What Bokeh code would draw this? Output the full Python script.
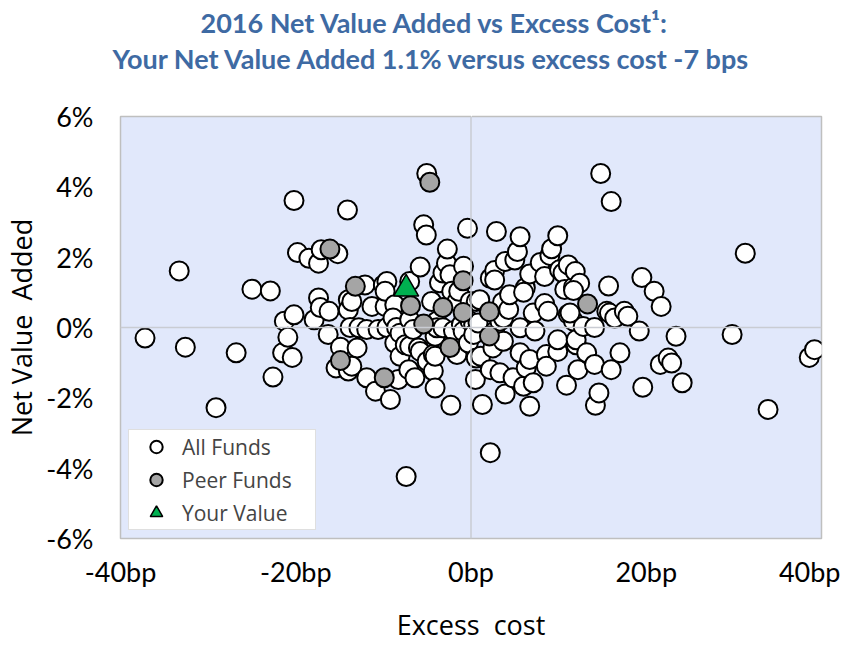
from bokeh.plotting import figure
from bokeh.models import (Range1d, FixedTicker, PrintfTickFormatter, Span,
                          Legend, LegendItem, Title, LinearAxis)
from bokeh.embed import file_html
from bokeh.resources import INLINE

# ---------------- data ----------------
x_ticks = [-40, -20, 0, 20, 40]
y_ticks = [-6, -4, -2, 0, 2, 4, 6]

# All funds: excess cost (bp) and net value added (%)
all_cost = [
    -37.2, -33.3, -32.6, -29.1, -26.8, -25.0, -22.9, -22.6, -21.5, -21.3,
    -20.9, -20.4, -20.2, -20.2, -19.8, -18.5, -17.9, -17.4, -17.4, -17.2,
    -17.1, -16.3, -16.2, -15.2, -14.9, -15.4, -14.0, -14.1, -14.0, -14.0,
    -13.8, -13.6, -13.0, -13.6, -12.8, -12.1, -11.9, -11.9, -11.3, -10.9,
    -10.6, -10.0, -9.8, -9.6, -9.8, -9.6, -9.2, -8.7, -8.9, -8.7,
    -8.5, -8.3, -8.1, -8.1, -7.5, -7.1, -7.0, -7.0, -7.0, -7.4,
    -6.6, -6.4, -6.0, -5.8, -5.8, -5.4, -5.1, -5.05, -5.0, -4.5,
    -4.3, -4.3, -4.1, -4.1, -3.9, -3.9, -3.6, -3.2, -3.2, -2.8,
    -2.7, -2.4, -2.3, -2.2, -2.0, -1.6, -1.6, -1.4, -1.1, -0.9,
    -0.85, -0.4, -0.3, -0.1, -0.1, 0.3, 0.3, 0.5, 0.6, 0.6,
    0.8, 1.0, 1.1, 1.3, 2.2, 2.2, 2.2, 2.5, 2.7, 2.7,
    2.7, 2.9, 3.3, 3.3, 3.6, 3.7, 3.7, 3.9, 3.9, 4.3,
    4.4, 4.8, 5.0, 5.3, 5.6, 5.6, 5.6, 6.0, 6.2, 6.3,
    6.7, 6.7, 6.7, 7.1, 7.1, 7.3, 7.9, 8.4, 8.4, 8.6,
    8.6, 8.8, 9.0, 9.2, 9.9, 9.9, 9.9, 10.1, 10.5, 10.7,
    10.9, 11.1, 11.1, 11.7, 11.7, 11.9, 12.0, 12.0, 12.2, 12.4,
    12.8, 13.2, 14.1, 14.1, 14.2, 14.6, 14.8, 15.5, 15.7, 15.8,
    16.0, 16.0, 16.4, 17.0, 17.5, 17.9, 19.2, 19.5, 19.6, 20.9,
    21.7, 21.6, 22.5, 22.9, 23.4, 24.1, 29.8, 31.3, 33.9, 38.6,
    39.2, 6.0, 11.7, -4.1, 11.3,
]
all_nva = [
    -0.30, 1.61, -0.56, -2.28, -0.72, 1.09, 1.04, -1.41, -0.72, 0.18,
    -0.28, -0.85, 0.36, 3.61, 2.13, 1.97, 0.22, 1.83, 0.84, 0.57,
    2.21, -0.20, 0.46, 2.10, -0.56, -1.15, -1.24, 3.34, 0.79, 0.50,
    0.00, 0.74, -0.58, -1.10, -0.01, 1.21, -0.06, -1.43, 0.60, -1.81,
    -0.06, 1.21, 0.60, 1.31, 1.03, 0.00, -2.05, 0.65, 0.27, -0.44,
    0.00, -1.48, -0.16, -0.82, -0.49, -1.20, 1.31, 0.22, -0.53, -4.24,
    -0.06, -1.43, -0.58, 1.72, -0.68, 2.92, 2.63, 4.38, -0.96, 0.74,
    -1.24, -0.77, -1.72, -0.25, 0.18, -0.01, 1.27, -0.01, 1.55, 1.83,
    2.23, 1.50, -2.21, 1.03, -0.09, 0.74, -0.77, 1.03, 0.08, -0.11,
    1.74, 2.82, -0.44, 0.74, 0.18, 0.08, -0.20, -1.48, -0.87, 0.74,
    0.13, 0.79, -0.82, -2.19, -3.56, 1.40, -1.20, -0.58, 1.62, 1.35,
    -0.11, 2.73, 0.18, -1.29, 0.72, 0.27, -0.39, 1.88, -1.89, 0.51,
    0.93, -1.43, 1.92, 2.16, 2.58, -0.72, -0.01, -1.67, 1.13, -1.15,
    1.52, -0.91, -2.24, 0.41, -1.57, -0.10, 1.85, 0.68, 1.45, -0.77,
    -1.10, 0.46, 2.05, 2.24, 2.61, -0.68, -0.35, 1.64, 1.55, 1.08,
    -1.64, 1.78, 0.38, 1.15, 0.18, 1.59, -0.49, -0.35, -1.20, 1.26,
    0.03, -0.72, 0.00, -1.05, -2.21, -1.86, 4.38, 0.46, 1.18, 0.41,
    3.58, -1.20, 0.27, -0.72, 0.46, 0.32, -0.10, 1.42, -1.70, 1.03,
    0.60, -1.05, -0.87, -1.01, -0.25, -1.57, -0.20, 2.11, -2.33, -0.85,
    -0.63, 1.00, 1.05, -0.82, 0.41,
]

# Peer funds
peer_cost = [-16.1, -4.7, -13.2, -0.9, -6.9, -5.4, -3.2, -0.9, 2.1, 2.1,
             -2.4, -14.9, -9.9, 13.3]
peer_nva = [2.23, 4.13, 1.17, 1.33, 0.62, 0.10, 0.57, 0.43, 0.45, -0.24,
            -0.57, -0.94, -1.43, 0.67]

# Your value
your_cost = [-7.4]
your_nva = [1.1]

title_line1 = "2016 Net Value Added vs Excess Cost\u00b9:"
title_line2 = "Your Net Value Added 1.1% versus excess cost -7 bps"

# ---------------- figure ----------------
TITLE_COLOR = "#3E6AA3"
TICK_FONT = "Lato"

p = figure(width=840, height=648,
           x_range=Range1d(-40, 40), y_range=Range1d(-6, 6),
           output_backend="svg", toolbar_location=None,
           min_border_left=117, min_border_right=19,
           min_border_top=116, min_border_bottom=110,
           background_fill_color="#E1E8FB", border_fill_color="white",
           outline_line_color="#BFBFBF", outline_line_width=1.5)

xax = p.below[0]
yax = p.left[0]

# outer title line
p.title.text = title_line1
p.title.align = "left"
p.title.offset = 80
p.title.text_font = "Lato"
p.title.text_font_style = "bold"
p.title.text_font_size = "27px"
p.title.text_color = TITLE_COLOR
p.title.standoff = 2

# spacer between the frame and the titles: a label-less axis whose single
# tick is white on the white border, so it only reserves vertical room
spacer = LinearAxis(ticker=FixedTicker(ticks=[0]), axis_line_color=None,
                    major_tick_line_color="white", major_tick_line_width=1,
                    minor_tick_line_color=None,
                    major_tick_out=42, minor_tick_out=0, major_tick_in=0,
                    major_label_text_color=None, major_label_standoff=0)
p.add_layout(spacer, "above")

# inner title line
t2 = Title(text=title_line2, align="left", offset=-8, text_font="Lato",
           text_font_style="bold", text_font_size="27px",
           text_color=TITLE_COLOR, standoff=0)
p.add_layout(t2, "above")

p.xgrid.visible = False
p.ygrid.visible = False

for ax in (xax, yax):
    ax.axis_line_color = None
    ax.major_tick_line_color = None
    ax.minor_tick_line_color = None
    ax.major_tick_in = 0
    ax.major_tick_out = 0
    ax.minor_tick_out = 0
    ax.major_label_text_font = TICK_FONT
    ax.major_label_text_font_size = "27px"
    ax.major_label_text_color = "black"
    ax.axis_label_text_font = "Open Sans"
    ax.axis_label_text_font_size = "27px"
    ax.axis_label_text_font_style = "normal"
    ax.axis_label_text_color = "black"

xax.ticker = FixedTicker(ticks=x_ticks)
yax.ticker = FixedTicker(ticks=y_ticks)
xax.formatter = PrintfTickFormatter(format="%dbp")
yax.formatter = PrintfTickFormatter(format="%d%%")
xax.axis_label = "Excess\u00a0 cost"
yax.axis_label = "Net Value\u00a0 Added"
xax.major_label_standoff = 16
xax.axis_label_standoff = 15
yax.major_label_standoff = 27
yax.axis_label_standoff = 3

p.add_layout(Span(location=0, dimension="height", line_color="#C9CCD3", line_width=1.5))
p.add_layout(Span(location=0, dimension="width", line_color="#C9CCD3", line_width=1.5))

r_all = p.scatter(all_cost, all_nva, marker="circle", size=19,
                  fill_color="white", line_color="black", line_width=2)
r_peer = p.scatter(peer_cost, peer_nva, marker="circle", size=19,
                   fill_color="#A5A5A5", line_color="black", line_width=2)
r_you = p.scatter(your_cost, your_nva, marker="triangle", size=25,
                  fill_color="#00B050", line_color="black", line_width=1.5)

legend = Legend(items=[LegendItem(label="All Funds", renderers=[r_all]),
                       LegendItem(label="Peer Funds", renderers=[r_peer]),
                       LegendItem(label="Your Value", renderers=[r_you])],
                location="bottom_left", margin=8, padding=1, spacing=2,
                glyph_width=52, glyph_height=31, label_height=31,
                label_standoff=0, label_width=132,
                label_text_font="Open Sans", label_text_font_size="21px",
                border_line_color="#BFBFBF", border_line_width=1.5,
                background_fill_color="white", background_fill_alpha=1.0)
p.add_layout(legend)

open("out.html", "w").write(file_html(p, INLINE))
